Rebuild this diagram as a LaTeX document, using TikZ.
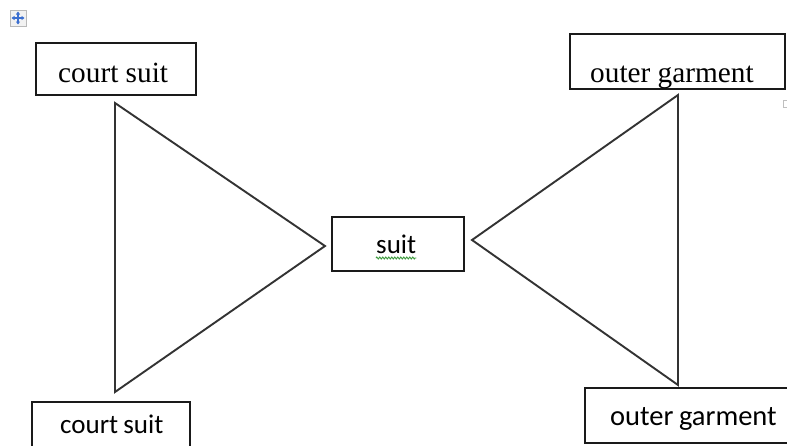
\documentclass[tikz,border=0pt]{standalone}
\usepackage{fontspec}
\setmainfont{Liberation Serif}
\newfontfamily\calib{Carlito}
\usetikzlibrary{arrows.meta,decorations.pathmorphing}
\definecolor{linegray}{HTML}{333333}
\definecolor{boxline}{HTML}{1A1A1A}
\definecolor{squig}{HTML}{3C9A3C}
\definecolor{handleblue}{HTML}{3B6FD0}
\tikzset{
  box/.style={draw=boxline, line width=1.9pt, rectangle, inner sep=0pt},
  tri/.style={draw=linegray, line width=1.9pt, line join=miter},
  serifl/.style={anchor=base west, inner sep=0pt, font=\fontsize{29.3}{32}\selectfont},
  sansl/.style={anchor=base west, inner sep=0pt, font=\calib\fontsize{27}{30}\selectfont},
  sansbig/.style={anchor=base west, inner sep=0pt, font=\calib\fontsize{28.5}{31}\selectfont},
  handlearrow/.style={handleblue, line width=1.3pt, {Triangle[length=3pt,width=4pt]}-{Triangle[length=3pt,width=4pt]}},
}
\begin{document}
\begin{tikzpicture}[x=1pt,y=-1pt]
\useasboundingbox (0,0) rectangle (787,445);
\fill[white] (0,0) rectangle (787,445);
\clip (0,0) rectangle (787,445);
% move handle
\node[draw=gray!55, fill=gray!10, line width=1pt, minimum size=16pt, inner sep=0pt] (handle) at (18,18) {};
\draw[handlearrow] ([xshift=-6.5pt]handle.center) -- ([xshift=6.5pt]handle.center);
\draw[handlearrow] ([yshift=-6.5pt]handle.center) -- ([yshift=6.5pt]handle.center);
% boxes
\node[box, minimum width=160pt, minimum height=52pt] (tl) at (116,69) {};
\node[box, minimum width=215pt, minimum height=55pt] (tr) at (677.5,61.5) {};
\node[box, minimum width=158pt, minimum height=60pt] (bl) at (111,432) {};
\node[box, minimum width=220pt, minimum height=55pt] (br) at (695,415.5) {};
\node[box, minimum width=132pt, minimum height=54pt] (c) at (398,244) {};
% texts
\node[serifl] (tltext) at (58,82) {court suit};
\node[serifl] (trtext) at (590,82) {outer garment};
\node[sansl] (bltext) at (60,433) {court\kern-1pt\ suit};
\node[sansbig] (brtext) at (610,425) {outer\kern-1pt\ garment};
\node[sansl] (ctext) at (376,253) {suit};
\draw[squig, line width=0.9pt, decorate, decoration={zigzag, segment length=3pt, amplitude=1pt}] ([yshift=-5pt]ctext.base west) -- ([yshift=-5pt]ctext.base east);
% triangles
\coordinate (lt) at (115,103);
\coordinate (lb) at (115,392);
\coordinate (la) at (325,246);
\coordinate (rt) at (678,95);
\coordinate (rb) at (678,385);
\coordinate (ra) at (472,240);
\draw[tri] (lt) -- (lb) -- (la) -- cycle;
\draw[tri] (rt) -- (rb) -- (ra) -- cycle;
% small mark at right
\draw[gray!50, line width=0.9pt] (783.5,100) rectangle (790,107);
\end{tikzpicture}
\end{document}
